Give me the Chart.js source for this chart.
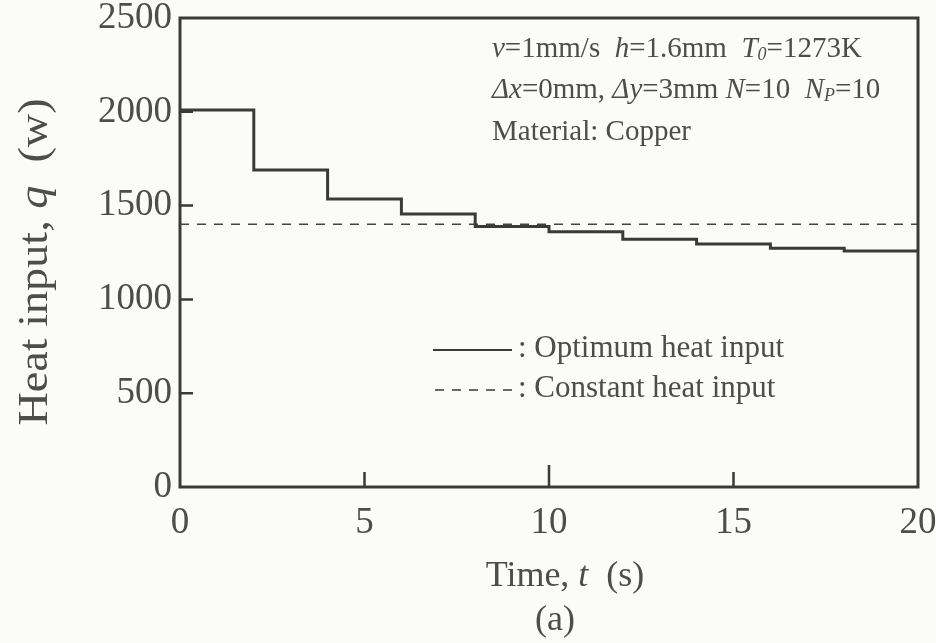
<!DOCTYPE html>
<html>
<head>
<meta charset="utf-8">
<script src="https://cdn.jsdelivr.net/npm/chart.js@4.4.1/dist/chart.umd.min.js"></script>
<style>
  html, body { margin: 0; padding: 0; background: #fbfbfa; }
  #wrap { width: 936px; height: 643px; }
</style>
</head>
<body>
<div id="wrap"><canvas id="heatChart" width="936" height="643"></canvas></div>
<script>
// time at which each heating step begins (s)
const stepStart = [0, 2, 4, 6, 8, 10, 12, 14, 16, 18];
// optimum heat input held over each step (W)
const optimumQ = [2010, 1690, 1535, 1455, 1388, 1360, 1320, 1295, 1272, 1258];
const endTime = 20;
// constant heat input reference level (W)
const constantQ = 1400;

const xTicks = [0, 5, 10, 15, 20];
const yTicks = [0, 500, 1000, 1500, 2000, 2500];

const FONT = "'Liberation Serif', 'Times New Roman', serif";
const INK = '#3a3a3a';
const TEXT = '#4d4d4d';

// each value is held until the next step start
const optimumPts = stepStart.map((t, i) => ({ x: t, y: optimumQ[i] }));
optimumPts.push({ x: endTime, y: optimumQ[optimumQ.length - 1] });
const constantPts = [{ x: 0, y: constantQ }, { x: endTime, y: constantQ }];

// text pieces: '' upright, 'i' italic, 's' italic subscript
function fontFor(st, size) {
  if (st === 'i') return `italic ${size}px ${FONT}`;
  if (st === 's') return `italic ${Math.round(size * 0.62)}px ${FONT}`;
  return `${size}px ${FONT}`;
}
function richWidth(ctx, parts, size) {
  let w = 0;
  parts.forEach(([txt, st]) => {
    ctx.font = fontFor(st, size);
    w += ctx.measureText(txt).width;
  });
  return w;
}
function drawRich(ctx, parts, x, y, size) {
  ctx.textBaseline = 'middle';
  ctx.textAlign = 'left';
  parts.forEach(([txt, st]) => {
    ctx.font = fontFor(st, size);
    ctx.fillText(txt, x, st === 's' ? y + size * 0.22 : y);
    x += ctx.measureText(txt).width;
  });
}

const notes = [
  [['v', 'i'], ['=1mm/s  ', ''], ['h', 'i'], ['=1.6mm  ', ''], ['T', 'i'], ['0', 's'], ['=1273K', '']],
  [['\u0394x', 'i'], ['=0mm, ', ''], ['\u0394y', 'i'], ['=3mm ', ''], ['N', 'i'], ['=10  ', ''], ['N', 'i'], ['P', 's'], ['=10', '']],
  [['Material: Copper', '']]
];

const decor = {
  id: 'decor',
  beforeDraw(chart) {
    const c = chart.ctx;
    c.save();
    c.fillStyle = '#fbfbfa';
    c.fillRect(0, 0, chart.width, chart.height);
    c.restore();
  },
  afterDatasetsDraw(chart) {
    const c = chart.ctx;
    const a = chart.chartArea;
    const xs = chart.scales.x, ys = chart.scales.y;
    c.save();
    // frame
    c.strokeStyle = INK;
    c.lineWidth = 3;
    c.strokeRect(a.left, a.top, a.right - a.left, a.bottom - a.top);
    // inward ticks
    c.lineWidth = 2.5;
    c.beginPath();
    xTicks.slice(1, -1).forEach(v => {
      const px = xs.getPixelForValue(v);
      const len = v % 10 === 0 ? 22 : 15;
      c.moveTo(px, a.bottom);
      c.lineTo(px, a.bottom - len);
    });
    yTicks.slice(1, -1).forEach(v => {
      const py = ys.getPixelForValue(v);
      c.moveTo(a.left, py);
      c.lineTo(a.left + 13, py);
    });
    c.stroke();

    // parameter notes
    c.fillStyle = TEXT;
    drawRich(c, notes[0], 492, 49, 29);
    drawRich(c, notes[1], 492, 90, 29);
    drawRich(c, notes[2], 492, 132, 29);

    // legend
    c.strokeStyle = INK;
    c.lineWidth = 2;
    c.beginPath();
    c.moveTo(433, 350); c.lineTo(512, 350);
    c.stroke();
    c.lineWidth = 1.5;
    c.setLineDash([9, 8]);
    c.beginPath();
    c.moveTo(435, 390); c.lineTo(512, 390);
    c.stroke();
    c.setLineDash([]);
    drawRich(c, [[': Optimum heat input', '']], 518, 349, 31);
    drawRich(c, [[': Constant heat input', '']], 518, 389, 31);

    // axis titles
    const xt = [['Time, ', ''], ['t', 'i'], ['  (s)', '']];
    drawRich(c, xt, 565 - richWidth(c, xt, 36) / 2, 577, 36);
    const ab = [['(a)', '']];
    drawRich(c, ab, 555 - richWidth(c, ab, 36) / 2, 621, 36);

    const yt = [['Heat input, ', ''], ['q', 'i'], ['  (w)', '']];
    c.translate(36, 262);
    c.rotate(-Math.PI / 2);
    c.scale(1.1, 1);
    drawRich(c, yt, -richWidth(c, yt, 42) / 2, 0, 42);
    c.restore();
  }
};

new Chart(document.getElementById('heatChart'), {
  type: 'line',
  data: {
    datasets: [
      {
        label: 'Optimum heat input',
        data: optimumPts,
        stepped: 'before',
        borderColor: INK,
        borderWidth: 3,
        pointRadius: 0,
        fill: false
      },
      {
        label: 'Constant heat input',
        data: constantPts,
        borderColor: '#444',
        borderWidth: 1.5,
        borderDash: [9, 8],
        pointRadius: 0,
        fill: false
      }
    ]
  },
  options: {
    responsive: false,
    animation: false,
    layout: { padding: { top: 18, right: 18, left: 0, bottom: 0 } },
    plugins: { legend: { display: false }, tooltip: { enabled: false } },
    scales: {
      x: {
        type: 'linear',
        min: 0,
        max: 20,
        afterBuildTicks: s => { s.ticks = xTicks.map(v => ({ value: v })); },
        afterFit: s => { s.height = 156; s.paddingLeft = 0; s.paddingRight = 0; },
        grid: { display: false, drawTicks: false, tickLength: 0 },
        border: { display: false },
        ticks: { color: TEXT, font: { family: FONT, size: 37 }, padding: 14, maxRotation: 0,
                 callback: v => String(v) }
      },
      y: {
        min: 0,
        max: 2500,
        afterBuildTicks: s => { s.ticks = yTicks.map(v => ({ value: v })); },
        afterFit: s => { s.width = 180; s.paddingTop = 0; s.paddingBottom = 0; },
        grid: { display: false, drawTicks: false, tickLength: 0 },
        border: { display: false },
        ticks: { color: TEXT, font: { family: FONT, size: 37 }, padding: 8,
                 callback: v => String(v) }
      }
    }
  },
  plugins: [decor]
});
</script>
</body>
</html>
